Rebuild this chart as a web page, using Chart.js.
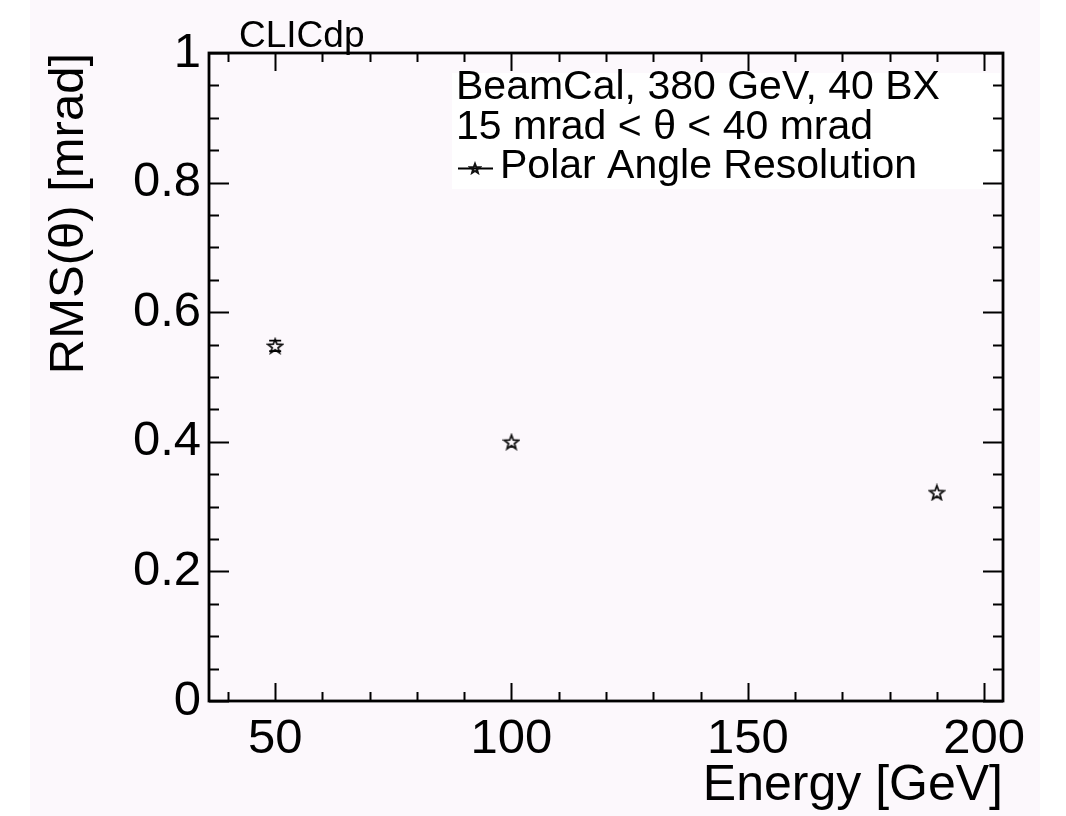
<!doctype html>
<html lang="en">
<head>
<meta charset="utf-8">
<title>Polar Angle Resolution</title>
<script src="https://cdn.jsdelivr.net/npm/chart.js@4.4.0/dist/chart.umd.min.js"></script>
<style>
  html, body { margin: 0; padding: 0; }
  body {
    width: 1066px; height: 816px; overflow: hidden;
    background: linear-gradient(to right, #fff 0, #fff 30px, #fcf8fc 30px, #fcf8fc 1040px, #fff 1040px);
  }
  #wrap { position: relative; width: 1066px; height: 816px; }
</style>
</head>
<body>
<div id="wrap"><canvas id="myChart"></canvas></div>
<script>
// data
const energy = [50, 100, 190];
const rmsTheta = [0.548, 0.400, 0.322];
const rmsErr = [0.008, 0, 0];
const xMajor = [50, 100, 150, 200];
const yMajor = [0, 0.2, 0.4, 0.6, 0.8, 1];
const legendLines = ["BeamCal, 380 GeV, 40 BX", "15 mrad < \u03b8 < 40 mrad"];
const seriesName = "Polar Angle Resolution";
const tag = "CLICdp";

const FONT = '"Liberation Sans", Arial, Helvetica, sans-serif';
Chart.defaults.font.family = FONT;
Chart.defaults.color = '#000';

// open five pointed star, ROOT style marker
let makeStar = (size, lw, R) => {
  const c = document.createElement('canvas');
  c.width = size; c.height = size;
  const g = c.getContext('2d');
  const r = R * 0.42, cx = size / 2, cy = size / 2 + 0.8;
  g.beginPath();
  for (let i = 0; i < 10; i++) {
    const a = -Math.PI / 2 + i * Math.PI / 5;
    const rr = i % 2 ? r : R;
    g.lineTo(cx + rr * Math.cos(a), cy + rr * Math.sin(a));
  }
  g.closePath();
  g.lineWidth = lw;
  g.strokeStyle = '#111';
  g.stroke();
  return c;
};
const starImg = makeStar(18, 1.8, 7.5);
const smallStar = makeStar(14, 2, 5);

const rootFrame = {
  id: 'rootFrame',
  beforeDatasetsDraw(chart) {
    const ctx = chart.ctx, a = chart.chartArea;
    // legend box
    ctx.save();
    ctx.fillStyle = '#ffffff';
    ctx.fillRect(a.left + 243, a.top + 20, 548, 116);
    ctx.restore();
  },
  afterDatasetsDraw(chart) {
    const ctx = chart.ctx, a = chart.chartArea;
    const xs = chart.scales.x, ys = chart.scales.y;
    ctx.save();
    ctx.strokeStyle = '#000';
    ctx.lineWidth = 2;
    // x ticks, bottom and top
    xs.ticks.forEach(t => {
      const px = Math.round(xs.getPixelForValue(t.value)) + 0.5;
      const len = xMajor.includes(t.value) ? 18 : 9;
      ctx.beginPath();
      ctx.moveTo(px, a.bottom); ctx.lineTo(px, a.bottom - len);
      ctx.moveTo(px, a.top); ctx.lineTo(px, a.top + len);
      ctx.stroke();
    });
    // y ticks, left and right
    ys.ticks.forEach(t => {
      const py = Math.round(ys.getPixelForValue(t.value)) + 0.5;
      const len = yMajor.some(m => Math.abs(m - t.value) < 1e-6) ? 20 : 10;
      ctx.beginPath();
      ctx.moveTo(a.left, py); ctx.lineTo(a.left + len, py);
      ctx.moveTo(a.right, py); ctx.lineTo(a.right - len, py);
      ctx.stroke();
    });
    // frame
    ctx.lineWidth = 2.8;
    ctx.strokeRect(a.left, a.top, a.right - a.left, a.bottom - a.top);

    // error bars with end caps
    ctx.lineWidth = 1.8;
    energy.forEach((e, i) => {
      if (!rmsErr[i]) return;
      const px = xs.getPixelForValue(e);
      const y1 = ys.getPixelForValue(rmsTheta[i] + rmsErr[i]);
      const y2 = ys.getPixelForValue(rmsTheta[i] - rmsErr[i]);
      ctx.beginPath();
      ctx.moveTo(px - 6, y1); ctx.lineTo(px + 6, y1);
      ctx.moveTo(px - 6, y2); ctx.lineTo(px + 6, y2);
      ctx.stroke();
    });

    // legend text
    ctx.fillStyle = '#000';
    ctx.textBaseline = 'alphabetic';
    ctx.textAlign = 'left';
    ctx.font = '41px ' + FONT;
    const lx = a.left + 247;
    ctx.fillText(legendLines[0], lx, a.top + 46);
    ctx.fillText(legendLines[1], lx, a.top + 86);
    ctx.fillText(seriesName, a.left + 291, a.top + 125);
    ctx.lineWidth = 2;
    ctx.beginPath();
    ctx.moveTo(a.left + 249, a.top + 115.5);
    ctx.lineTo(a.left + 284, a.top + 115.5);
    ctx.stroke();
    ctx.drawImage(smallStar, a.left + 266 - 7, a.top + 115 - 7);

    // experiment tag
    ctx.font = '37px ' + FONT;
    ctx.fillText(tag, a.left + 30, a.top - 6);
    ctx.restore();
  }
};

const ctx = document.getElementById('myChart');
new Chart(ctx, {
  type: 'scatter',
  data: {
    datasets: [{
      label: seriesName,
      data: energy.map((e, i) => ({ x: e, y: rmsTheta[i] })),
      pointStyle: starImg,
      pointRadius: 9,
      showLine: false
    }]
  },
  options: {
    responsive: true,
    maintainAspectRatio: false,
    animation: false,
    events: [],
    layout: { padding: { top: 53, right: 63, left: 0, bottom: 0 } },
    plugins: { legend: { display: false }, tooltip: { enabled: false } },
    scales: {
      x: {
        type: 'linear',
        min: 36, max: 204,
        afterFit: s => { s.height = 115; },
        grid: { display: false, drawTicks: false },
        border: { display: false },
        ticks: {
          stepSize: 10,
          includeBounds: false,
          autoSkip: false,
          maxRotation: 0,
          padding: 9,
          font: { size: 49 },
          callback: v => xMajor.includes(v) ? String(v) : ''
        },
        title: {
          display: true,
          text: 'Energy [GeV]',
          align: 'end',
          font: { size: 50 },
          padding: { top: 0, bottom: 0 }
        }
      },
      y: {
        type: 'linear',
        min: 0, max: 1,
        afterFit: s => { s.width = 209; },
        grid: { display: false, drawTicks: false },
        border: { display: false },
        ticks: {
          stepSize: 0.05,
          autoSkip: false,
          padding: 8,
          font: { size: 49 },
          callback: v => {
            const m = yMajor.find(m => Math.abs(m - v) < 1e-6);
            return m === undefined ? '' : String(m);
          }
        },
        title: {
          display: true,
          text: 'RMS(\u03b8) [mrad]',
          align: 'end',
          font: { size: 49 },
          padding: { top: 40, bottom: 0 }
        }
      }
    }
  },
  plugins: [rootFrame]
});
</script>
</body>
</html>
